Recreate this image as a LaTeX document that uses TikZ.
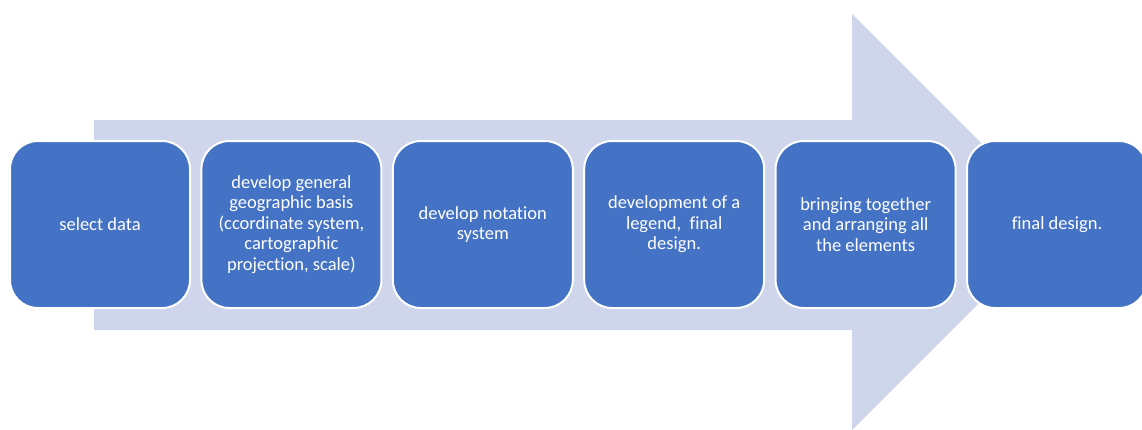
\documentclass[tikz,border=0pt]{standalone}
\usepackage{fontspec}
\setmainfont[Ligatures=CommonOff]{Carlito}
\usetikzlibrary{positioning}

\definecolor{stepblue}{HTML}{4472C4}
\definecolor{arrowgrey}{HTML}{CFD5EA}

\begin{document}
\begin{tikzpicture}[
  x=1pt, y=1pt,
  node distance=9.4pt,
  stepbox/.style={rectangle, rounded corners=28pt, draw=white, line width=2pt,
    fill=stepblue, text=white, minimum width=180pt, minimum height=167pt,
    align=center, font=\fontsize{18.5}{20.5}\selectfont},
  big arrow/.style={fill=arrowgrey, draw=none}
]

% picture frame, same size as the reference
\useasboundingbox (0,0) rectangle (1142,-429);
\clip (0,0) rectangle (1142,-429);

% the wide arrow behind the steps
\fill[big arrow] (94,-120) -- (852,-120) -- (852,-14) -- (1060,-222)
  -- (852,-430) -- (852,-330) -- (94,-330) -- cycle;

\node (data) [stepbox] at (100,-224.5) {select data};
\node (basis) [stepbox, right=of data] {develop general\\geographic basis\\(ccordinate system,\\cartographic\\projection, scale)};
\node (notation) [stepbox, right=of basis] {develop notation\\system};
\node (legend) [stepbox, right=of notation] {development of a\\legend,\ \ final\\design.};
\node (arrange) [stepbox, right=of legend] {bringing together\\and arranging all\\the elements};
\node (final) [stepbox, right=of arrange] {final design.};

\end{tikzpicture}
\end{document}
